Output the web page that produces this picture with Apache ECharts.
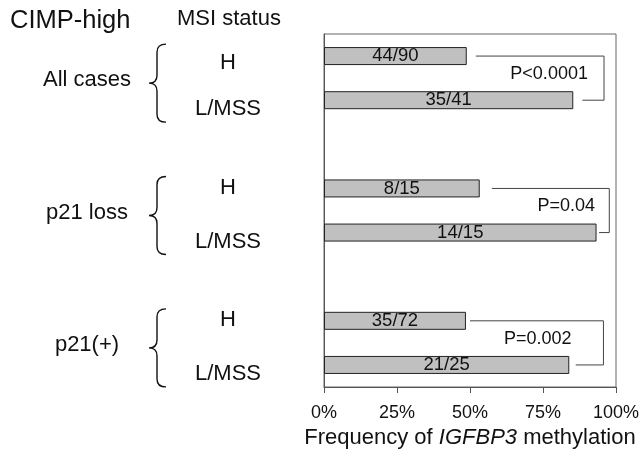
<!DOCTYPE html>
<html>
<head>
<meta charset="utf-8">
<script src="https://cdn.jsdelivr.net/npm/echarts@6/dist/echarts.min.js"></script>
<style>
html,body{margin:0;padding:0;background:#fff;}
#chart{width:643px;height:449px;}
</style>
</head>
<body>
<div id="chart"></div>
<script>
// ---- data ----
const msiLabels = ['H', 'L/MSS', '', 'H', 'L/MSS', '', 'H', 'L/MSS'];
const methylated = [44, 35, null, 8, 14, null, 35, 21];
const totals = [90, 41, null, 15, 15, null, 72, 25];
const groupNames = ['All cases', 'p21 loss', 'p21(+)'];
const groupTopRow = [0, 3, 6];
const groupBottomRow = [1, 4, 7];
const pValues = ['P<0.0001', 'P=0.04', 'P=0.002'];
// bracket annotation (in % units of the value axis)
const bracketTopStart = [52.0, 57.5, 50.0];
const bracketBottomStart = [88.5, 94.2, 86.2];
const bracketRight = [95.9, 97.7, 95.7];
const pTextX = [77.1, 83.0, 73.2];

const FONT = '"Liberation Sans", Arial, Helvetica, sans-serif';
const percents = methylated.map((m, i) => (m == null ? null : m / totals[i] * 100));

const chart = echarts.init(document.getElementById('chart'), null, {renderer: 'canvas'});

const annotData = groupNames.map((g, i) => [bracketRight[i], groupTopRow[i], groupBottomRow[i], i]);

function renderAnnot(params, api) {
  const i = api.value(3);
  const top = api.value(1), bot = api.value(2);
  const pTop = api.coord([bracketTopStart[i], top]);
  const pBot = api.coord([bracketBottomStart[i], bot]);
  const pRightTop = api.coord([bracketRight[i], top]);
  const pRightBot = api.coord([bracketRight[i], bot]);
  const midY = (pTop[1] + pBot[1]) / 2;
  const pText = api.coord([pTextX[i], top]);
  const axisX = api.coord([0, top])[0];
  // brace
  const braceMid = midY + 5;
  const h = 78;
  const y0 = braceMid - h / 2, y1 = braceMid + h / 2;
  const tipX = axisX - 175;
  const stemX = tipX + 8;
  const endX = tipX + 17;
  const r = 8;
  const d = [
    'M', endX, y0,
    'Q', stemX, y0, stemX, y0 + r,
    'L', stemX, braceMid - r,
    'Q', stemX, braceMid, tipX, braceMid,
    'Q', stemX, braceMid, stemX, braceMid + r,
    'L', stemX, y1 - r,
    'Q', stemX, y1, endX, y1
  ].join(' ');
  return {
    type: 'group',
    children: [
      {
        type: 'polyline',
        shape: {points: [[pTop[0], pTop[1]], [pRightTop[0], pRightTop[1]], [pRightBot[0], pRightBot[1]], [pBot[0], pBot[1]]]},
        style: {stroke: '#444', lineWidth: 1, fill: null}
      },
      {
        type: 'text',
        x: pText[0], y: midY - 4,
        style: {text: pValues[i], font: '18px ' + FONT, fill: '#111', textAlign: 'center', textVerticalAlign: 'middle'}
      },
      {
        type: 'path',
        shape: {pathData: d},
        style: {stroke: '#111', lineWidth: 1.4, fill: null}
      },
      {
        type: 'text',
        x: axisX - 237, y: braceMid - 3,
        style: {text: groupNames[i], font: '22px ' + FONT, fill: '#111', textAlign: 'center', textVerticalAlign: 'middle'}
      }
    ]
  };
}

const option = {
  animation: false,
  backgroundColor: '#fff',
  textStyle: {fontFamily: FONT},
  graphic: [
    {type: 'text', left: 10, top: 8, style: {text: 'CIMP-high', font: '25.5px ' + FONT, fill: '#111'}},
    {type: 'text', left: 177, top: 8, style: {text: 'MSI status', font: '22px ' + FONT, fill: '#111'}}
  ],
  grid: {left: 324, right: 27, top: 34, bottom: 62, show: true, borderColor: '#666', borderWidth: 1, containLabel: false, outerBoundsMode: 'none'},
  xAxis: {
    type: 'value', min: 0, max: 100, interval: 25,
    axisLine: {show: true, lineStyle: {color: '#555'}},
    axisTick: {show: true, length: 6, lineStyle: {color: '#555'}},
    splitLine: {show: false},
    axisLabel: {formatter: '{value}%', fontSize: 18, color: '#111', margin: 17, fontFamily: FONT},
    name: 'Frequency of {i|IGFBP3} methylation',
    nameLocation: 'middle',
    nameGap: 36,
    nameTextStyle: {fontSize: 22, color: '#111', fontFamily: FONT, rich: {i: {fontStyle: 'italic', fontSize: 22, color: '#111', fontFamily: FONT}}}
  },
  yAxis: {
    type: 'category',
    data: msiLabels,
    inverse: true,
    axisLine: {show: true, lineStyle: {color: '#555'}},
    axisTick: {show: false},
    splitLine: {show: false},
    axisLabel: {
      interval: 0, align: 'center', margin: 96, fontSize: 22, color: '#111', fontFamily: FONT,
      formatter: function (v, idx) {
        if (!v) return '';
        if (v === 'L/MSS') return '{l|' + v + '}';
        return (idx === 0 ? '{h1|' : '{h|') + v + '}';
      },
      rich: {
        h: {fontSize: 22, color: '#111', fontFamily: FONT, padding: [0, 0, 2, 0]},
        h1: {fontSize: 22, color: '#111', fontFamily: FONT, padding: [13, 0, 0, 0]},
        l: {fontSize: 22, color: '#111', fontFamily: FONT, padding: [18, 0, 0, 0]}
      }
    }
  },
  series: [
    {
      type: 'bar',
      data: percents,
      barWidth: 18,
      itemStyle: {color: '#c0c0c0', borderColor: '#222', borderWidth: 1},
      label: {
        show: true, position: 'inside', fontSize: 18.5, color: '#111', fontFamily: FONT,
        formatter: function (p) { return methylated[p.dataIndex] + '/' + totals[p.dataIndex]; }
      },
      silent: true
    },
    {
      type: 'custom',
      coordinateSystem: 'cartesian2d',
      data: annotData,
      encode: {x: 0, y: 1},
      renderItem: renderAnnot,
      clip: false,
      silent: true,
      z: 5
    }
  ]
};
chart.setOption(option);
</script>
</body>
</html>
